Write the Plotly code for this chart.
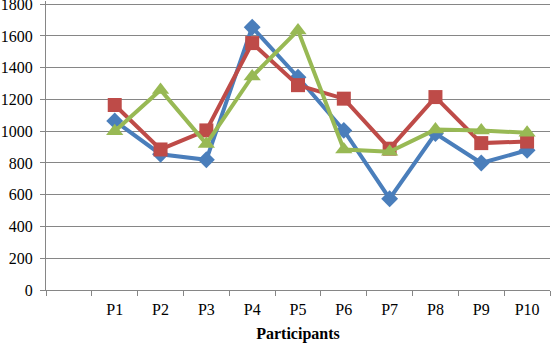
import plotly.graph_objects as go

categories = [" ", "P1", "P2", "P3", "P4", "P5", "P6", "P7", "P8", "P9", "P10"]
participants = ["P1", "P2", "P3", "P4", "P5", "P6", "P7", "P8", "P9", "P10"]
series_blue = [1065, 855, 820, 1655, 1340, 1005, 575, 985, 800, 880]
series_red = [1165, 885, 1005, 1555, 1290, 1205, 890, 1215, 925, 935]
series_green = [1000, 1260, 920, 1345, 1635, 885, 870, 1010, 1005, 990]
y_ticks = [0, 200, 400, 600, 800, 1000, 1200, 1400, 1600, 1800]

fig = go.Figure()
fig.add_trace(go.Scatter(
    x=participants, y=series_blue, mode="lines+markers",
    line=dict(color="#4A7EBB", width=4),
    marker=dict(symbol="diamond", size=13, color="#4A7EBB"),
    showlegend=False))
fig.add_trace(go.Scatter(
    x=participants, y=series_red, mode="lines+markers",
    line=dict(color="#BE4B48", width=4),
    marker=dict(symbol="square", size=14, color="#BE4B48"),
    showlegend=False))
fig.add_trace(go.Scatter(
    x=participants, y=series_green, mode="lines+markers",
    line=dict(color="#98B954", width=4),
    marker=dict(symbol="triangle-up", size=15, color="#98B954"),
    showlegend=False))

font = dict(family="Liberation Serif", size=16, color="#000000")

fig.update_layout(
    width=551, height=344,
    margin=dict(l=46, r=1, t=1, b=54),
    paper_bgcolor="white", plot_bgcolor="white",
    font=font,
    xaxis=dict(
        type="category", categoryorder="array", categoryarray=categories,
        range=[-0.5, 10.5], tickson="boundaries", ticks="outside", ticklen=5,
        tickcolor="#868686", showline=True, linecolor="#868686", linewidth=1,
        showgrid=False, zeroline=False, automargin=False,
        ticklabelstandoff=5,
        title=dict(text="<b>Participants</b>", font=font, standoff=10),
        tickfont=font,
    ),
    yaxis=dict(
        range=[0, 1820], tickvals=y_ticks, ticks="outside", ticklen=5,
        tickcolor="#868686", showline=True, linecolor="#868686", linewidth=1,
        showgrid=True, gridcolor="#868686", gridwidth=1, zeroline=False,
        automargin=False, tickfont=font, ticklabeloverflow="allow",
        ticklabelstandoff=4,
    ),
)

fig.write_html(
    "out.html",
    config={"displayModeBar": False},
    post_script="document.body.style.margin='0';document.body.style.overflow='hidden';",
)
